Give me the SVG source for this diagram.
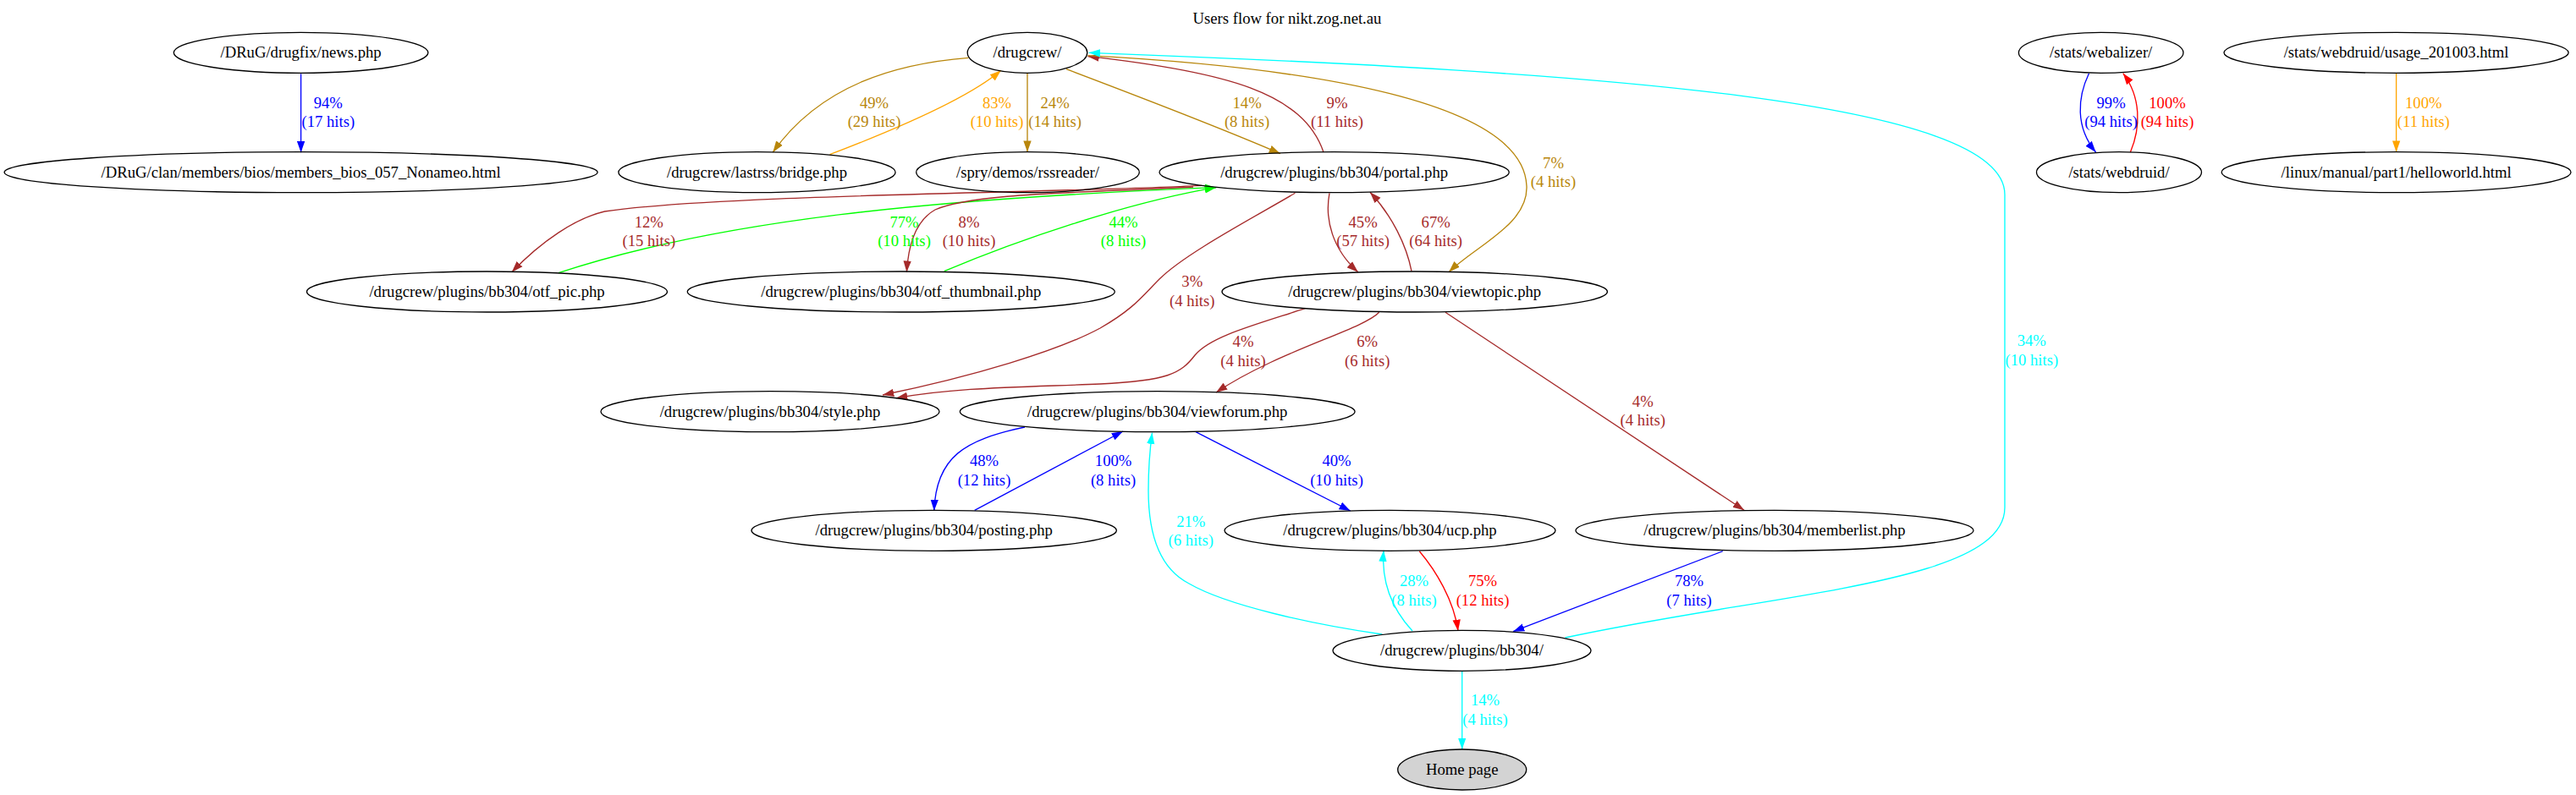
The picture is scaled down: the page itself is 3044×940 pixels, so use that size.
<svg xmlns="http://www.w3.org/2000/svg" width="3044" height="940" viewBox="0 0 3044 940">
<style>
text{font-family:"Liberation Serif","Times New Roman",serif;font-size:18.67px;text-anchor:middle}
.n ellipse{fill:none;stroke:#000;stroke-width:1.33}
.n text{fill:#000}
#home ellipse{fill:#d3d3d3}
.e path{fill:none;stroke-width:1.33}
.blue{stroke:#0000ff}.tblue{fill:#0000ff}
.gold{stroke:#b8860b}.tgold{fill:#b8860b}
.orng{stroke:#ffa500}.torng{fill:#ffa500}
.brwn{stroke:#a52a2a}.tbrwn{fill:#a52a2a}
.grn{stroke:#00ff00}.tgrn{fill:#00ff00}
.red{stroke:#ff0000}.tred{fill:#ff0000}
.cyan{stroke:#00ffff}.tcyan{fill:#00ffff}
</style>
<defs>
<marker id="a-blue" markerUnits="userSpaceOnUse" markerWidth="14" markerHeight="10" viewBox="0 0 14 10" refX="13.3" refY="5" orient="auto"><path d="M0,0.33L13.3,5L0,9.67Z" fill="#0000ff"/></marker>
<marker id="a-gold" markerUnits="userSpaceOnUse" markerWidth="14" markerHeight="10" viewBox="0 0 14 10" refX="13.3" refY="5" orient="auto"><path d="M0,0.33L13.3,5L0,9.67Z" fill="#b8860b"/></marker>
<marker id="a-orng" markerUnits="userSpaceOnUse" markerWidth="14" markerHeight="10" viewBox="0 0 14 10" refX="13.3" refY="5" orient="auto"><path d="M0,0.33L13.3,5L0,9.67Z" fill="#ffa500"/></marker>
<marker id="a-brwn" markerUnits="userSpaceOnUse" markerWidth="14" markerHeight="10" viewBox="0 0 14 10" refX="13.3" refY="5" orient="auto"><path d="M0,0.33L13.3,5L0,9.67Z" fill="#a52a2a"/></marker>
<marker id="a-grn" markerUnits="userSpaceOnUse" markerWidth="14" markerHeight="10" viewBox="0 0 14 10" refX="13.3" refY="5" orient="auto"><path d="M0,0.33L13.3,5L0,9.67Z" fill="#00ff00"/></marker>
<marker id="a-red" markerUnits="userSpaceOnUse" markerWidth="14" markerHeight="10" viewBox="0 0 14 10" refX="13.3" refY="5" orient="auto"><path d="M0,0.33L13.3,5L0,9.67Z" fill="#ff0000"/></marker>
<marker id="a-cyan" markerUnits="userSpaceOnUse" markerWidth="14" markerHeight="10" viewBox="0 0 14 10" refX="13.3" refY="5" orient="auto"><path d="M0,0.33L13.3,5L0,9.67Z" fill="#00ffff"/></marker>
</defs>
<rect x="0" y="0" width="3044" height="940" fill="#fff"/>
<text id="title" x="1521" y="28">Users flow for nikt.zog.net.au</text>

<g id="connectors" class="e">
<path class="blue" marker-end="url(#a-blue)" d="M355.6,87.3L355.6,180.3"/>
<path class="gold" marker-end="url(#a-gold)" d="M1144.5,68.3C1060,75 970,100 913.3,180"/>
<path class="orng" marker-end="url(#a-orng)" d="M980.6,182.7C1040,160 1140,120 1182.8,83.3"/>
<path class="gold" marker-end="url(#a-gold)" d="M1214,86.7L1214,179.7"/>
<path class="gold" marker-end="url(#a-gold)" d="M1260,81.7C1340,112 1440,150 1513,181.7"/>
<path class="brwn" marker-end="url(#a-brwn)" d="M1564,180C1540,110 1450,85 1285.5,66.7"/>
<path class="gold" marker-end="url(#a-gold)" d="M1285.5,65.7C1550,80 1800,120 1804,220C1806,265 1745,290 1712,321.7"/>
<path class="cyan" marker-end="url(#a-cyan)" d="M1849.5,754C2100,700 2369,690 2369,600L2369,230C2369,120 1900,85 1286.7,62.3"/>
<path class="blue" marker-end="url(#a-blue)" d="M2468.5,86.7C2455,115 2452,150 2476.6,180"/>
<path class="red" marker-end="url(#a-red)" d="M2517.4,180C2530,150 2530,115 2508.8,86.7"/>
<path class="orng" marker-end="url(#a-orng)" d="M2831.6,86.7L2831.6,179.7"/>
<path class="brwn" marker-end="url(#a-brwn)" d="M1420,219.4C1250,228 850,230 714.5,250C680,258 640,285 604.8,321.7"/>
<path class="grn" marker-end="url(#a-grn)" d="M660,322.7C850,260 1100,235 1437,221.7"/>
<path class="brwn" marker-end="url(#a-brwn)" d="M1410,221C1280,228 1150,228 1105,248C1080,262 1073,295 1071.4,321.7"/>
<path class="grn" marker-end="url(#a-grn)" d="M1115.8,320.7C1200,285 1330,240 1437,221.7"/>
<path class="brwn" marker-end="url(#a-brwn)" d="M1571,228.3C1565,260 1575,295 1604.8,321.7"/>
<path class="brwn" marker-end="url(#a-brwn)" d="M1668,320.7C1662,290 1645,255 1618.9,227.3"/>
<path class="brwn" marker-end="url(#a-brwn)" d="M1530.4,228.3C1480,258 1400,300 1370,330C1350,350 1340,365 1300,388C1250,415 1150,445 1043,467"/>
<path class="brwn" marker-end="url(#a-brwn)" d="M1542.3,364.7C1480,385 1430,398 1412,420C1395,442 1380,450 1300,454C1200,458 1130,458 1059,470.7"/>
<path class="brwn" marker-end="url(#a-brwn)" d="M1629.7,369.3C1610,390 1510,415 1437,464"/>
<path class="brwn" marker-end="url(#a-brwn)" d="M1708,369.3L2061,603.3"/>
<path class="blue" marker-end="url(#a-blue)" d="M1211,505C1140,520 1106,540 1103.8,604"/>
<path class="blue" marker-end="url(#a-blue)" d="M1151.7,603.3L1327,510"/>
<path class="blue" marker-end="url(#a-blue)" d="M1413,510.7L1595.7,604"/>
<path class="cyan" marker-end="url(#a-cyan)" d="M1633.3,750C1550,738 1450,716 1405,690C1370,672 1357,630 1357,580C1357,550 1359,530 1361.5,511.7"/>
<path class="cyan" marker-end="url(#a-cyan)" d="M1669,746C1645,720 1632,690 1635,650.7"/>
<path class="red" marker-end="url(#a-red)" d="M1677.3,651.7C1697,675 1718,710 1723,746"/>
<path class="blue" marker-end="url(#a-blue)" d="M2035.7,651.7L1788,746.7"/>
<path class="cyan" marker-end="url(#a-cyan)" d="M1727.7,793.3L1727.7,886"/>

<text class="tblue" x="387.8" y="127.7">94%</text><text class="tblue" x="387.8" y="150.3">(17 hits)</text>
<text class="tgold" x="1033" y="127.7">49%</text><text class="tgold" x="1033" y="150.3">(29 hits)</text>
<text class="torng" x="1178" y="127.7">83%</text><text class="torng" x="1178" y="150.3">(10 hits)</text>
<text class="tgold" x="1246.6" y="127.7">24%</text><text class="tgold" x="1246.6" y="150.3">(14 hits)</text>
<text class="tgold" x="1473.6" y="127.7">14%</text><text class="tgold" x="1473.6" y="150.3">(8 hits)</text>
<text class="tbrwn" x="1580" y="127.7">9%</text><text class="tbrwn" x="1580" y="150.3">(11 hits)</text>
<text class="tgold" x="1835.5" y="198.7">7%</text><text class="tgold" x="1835.5" y="221">(4 hits)</text>
<text class="tcyan" x="2400.8" y="409.3">34%</text><text class="tcyan" x="2400.8" y="432">(10 hits)</text>
<text class="tblue" x="2494.6" y="127.7">99%</text><text class="tblue" x="2494.6" y="150.3">(94 hits)</text>
<text class="tred" x="2561" y="127.7">100%</text><text class="tred" x="2561" y="150.3">(94 hits)</text>
<text class="torng" x="2863.8" y="127.7">100%</text><text class="torng" x="2863.8" y="150.3">(11 hits)</text>
<text class="tbrwn" x="766.8" y="269.3">12%</text><text class="tbrwn" x="766.8" y="291">(15 hits)</text>
<text class="tgrn" x="1068.5" y="269.3">77%</text><text class="tgrn" x="1068.5" y="291">(10 hits)</text>
<text class="tbrwn" x="1145" y="269.3">8%</text><text class="tbrwn" x="1145" y="291">(10 hits)</text>
<text class="tgrn" x="1327.5" y="269.3">44%</text><text class="tgrn" x="1327.5" y="291">(8 hits)</text>
<text class="tbrwn" x="1610.6" y="269.3">45%</text><text class="tbrwn" x="1610.6" y="291">(57 hits)</text>
<text class="tbrwn" x="1696.7" y="269.3">67%</text><text class="tbrwn" x="1696.7" y="291">(64 hits)</text>
<text class="tbrwn" x="1408.8" y="339.3">3%</text><text class="tbrwn" x="1408.8" y="362">(4 hits)</text>
<text class="tbrwn" x="1469" y="410">4%</text><text class="tbrwn" x="1469" y="432.7">(4 hits)</text>
<text class="tbrwn" x="1615.7" y="410">6%</text><text class="tbrwn" x="1615.7" y="432.7">(6 hits)</text>
<text class="tbrwn" x="1941.3" y="481">4%</text><text class="tbrwn" x="1941.3" y="503.3">(4 hits)</text>
<text class="tblue" x="1163" y="551">48%</text><text class="tblue" x="1163" y="573.7">(12 hits)</text>
<text class="tblue" x="1315.6" y="551">100%</text><text class="tblue" x="1315.6" y="573.7">(8 hits)</text>
<text class="tblue" x="1579.5" y="551">40%</text><text class="tblue" x="1579.5" y="573.7">(10 hits)</text>
<text class="tcyan" x="1407.3" y="622.5">21%</text><text class="tcyan" x="1407.3" y="645.2">(6 hits)</text>
<text class="tcyan" x="1671" y="693.3">28%</text><text class="tcyan" x="1671" y="715.5">(8 hits)</text>
<text class="tred" x="1752" y="693.3">75%</text><text class="tred" x="1752" y="715.5">(12 hits)</text>
<text class="tblue" x="1996" y="693.3">78%</text><text class="tblue" x="1996" y="715.5">(7 hits)</text>
<text class="tcyan" x="1755" y="834.3">14%</text><text class="tcyan" x="1755" y="857">(4 hits)</text>
</g>

<g id="news" class="n"><ellipse cx="355.6" cy="62.3" rx="150.3" ry="24"/><text x="355.6" y="68.3">/DRuG/drugfix/news.php</text></g>
<g id="members" class="n"><ellipse cx="355.6" cy="203.7" rx="350.5" ry="24"/><text x="355.6" y="209.7">/DRuG/clan/members/bios/members_bios_057_Nonameo.html</text></g>
<g id="drugcrew" class="n"><ellipse cx="1214" cy="62.3" rx="70.8" ry="24"/><text x="1214" y="68.3">/drugcrew/</text></g>
<g id="bridge" class="n"><ellipse cx="894.5" cy="203.7" rx="163.6" ry="24"/><text x="894.5" y="209.7">/drugcrew/lastrss/bridge.php</text></g>
<g id="rssreader" class="n"><ellipse cx="1214.5" cy="203.7" rx="131.8" ry="24"/><text x="1214.5" y="209.7">/spry/demos/rssreader/</text></g>
<g id="portal" class="n"><ellipse cx="1576.6" cy="203.7" rx="206.6" ry="24"/><text x="1576.6" y="209.7">/drugcrew/plugins/bb304/portal.php</text></g>
<g id="otf_pic" class="n"><ellipse cx="575.5" cy="345" rx="213" ry="24"/><text x="575.5" y="351">/drugcrew/plugins/bb304/otf_pic.php</text></g>
<g id="otf_thumbnail" class="n"><ellipse cx="1064.8" cy="345" rx="252.5" ry="24"/><text x="1064.8" y="351">/drugcrew/plugins/bb304/otf_thumbnail.php</text></g>
<g id="viewtopic" class="n"><ellipse cx="1671.7" cy="345" rx="227.7" ry="24"/><text x="1671.7" y="351">/drugcrew/plugins/bb304/viewtopic.php</text></g>
<g id="style" class="n"><ellipse cx="910" cy="486.7" rx="200" ry="24"/><text x="910" y="492.7">/drugcrew/plugins/bb304/style.php</text></g>
<g id="viewforum" class="n"><ellipse cx="1367.7" cy="486.7" rx="233.3" ry="24"/><text x="1367.7" y="492.7">/drugcrew/plugins/bb304/viewforum.php</text></g>
<g id="posting" class="n"><ellipse cx="1103.7" cy="627.3" rx="215.7" ry="24"/><text x="1103.7" y="633.3">/drugcrew/plugins/bb304/posting.php</text></g>
<g id="ucp" class="n"><ellipse cx="1642.5" cy="627.3" rx="195.5" ry="24"/><text x="1642.5" y="633.3">/drugcrew/plugins/bb304/ucp.php</text></g>
<g id="memberlist" class="n"><ellipse cx="2097" cy="627.3" rx="235" ry="24"/><text x="2097" y="633.3">/drugcrew/plugins/bb304/memberlist.php</text></g>
<g id="bb304" class="n"><ellipse cx="1727.5" cy="769.3" rx="152.5" ry="24"/><text x="1727.5" y="775.3">/drugcrew/plugins/bb304/</text></g>
<g id="home" class="n"><ellipse cx="1727.7" cy="910" rx="76" ry="24"/><text x="1727.7" y="916">Home page</text></g>
<g id="webalizer" class="n"><ellipse cx="2482.7" cy="62.3" rx="97.3" ry="24"/><text x="2482.7" y="68.3">/stats/webalizer/</text></g>
<g id="webdruid" class="n"><ellipse cx="2504" cy="203.7" rx="97.5" ry="24"/><text x="2504" y="209.7">/stats/webdruid/</text></g>
<g id="usage" class="n"><ellipse cx="2831.6" cy="62.3" rx="203.6" ry="24"/><text x="2831.6" y="68.3">/stats/webdruid/usage_201003.html</text></g>
<g id="helloworld" class="n"><ellipse cx="2831.6" cy="203.7" rx="206.4" ry="24"/><text x="2831.6" y="209.7">/linux/manual/part1/helloworld.html</text></g>
</svg>
